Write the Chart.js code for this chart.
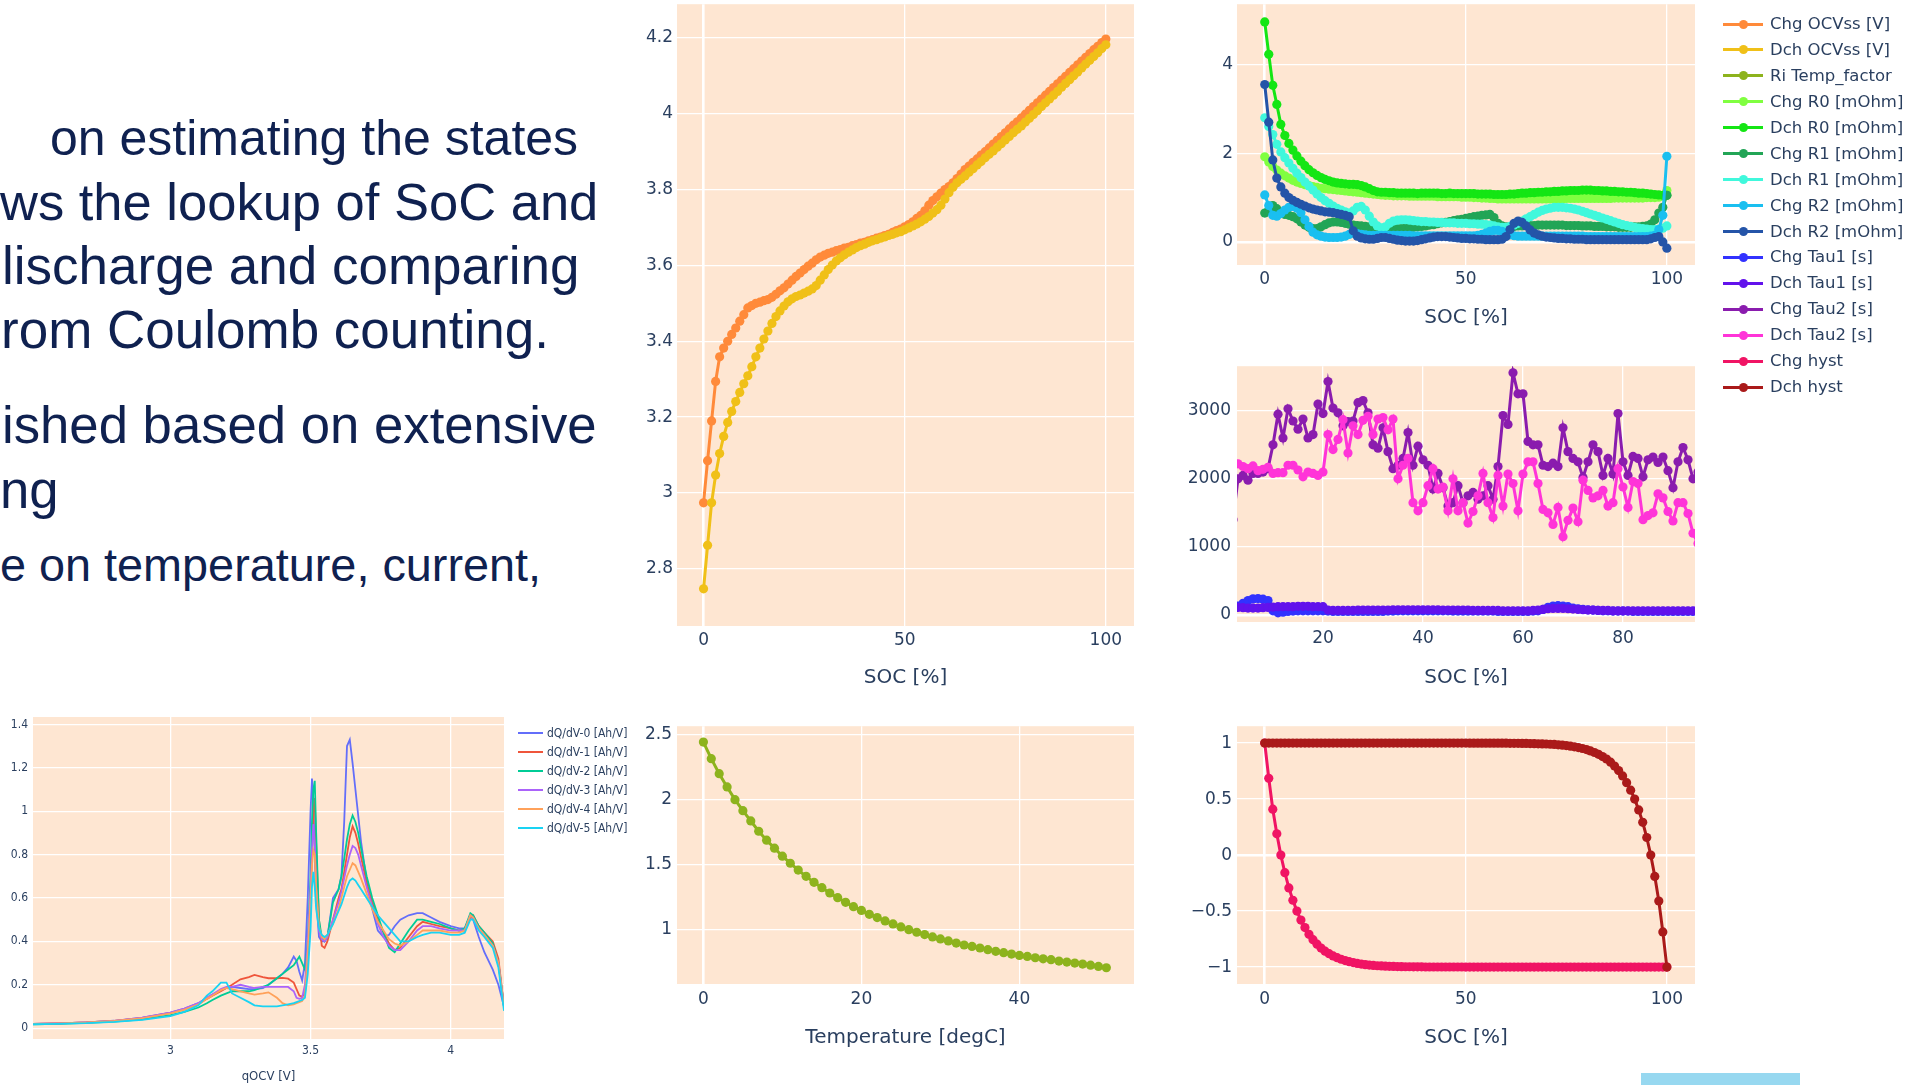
<!DOCTYPE html>
<html>
<head>
<meta charset="utf-8">
<title>Cell model lookup tables</title>
<script src="https://cdn.jsdelivr.net/npm/chart.js@4.4.1/dist/chart.umd.min.js"></script>
<style>
  html, body { margin: 0; padding: 0; }
  body { width: 1905px; height: 1085px; background: #fff; position: relative; overflow: hidden; }
  .line { position: absolute; white-space: nowrap; color: #0f2150; font-family: "Liberation Sans", Arial, sans-serif; line-height: 1; }
  canvas { position: absolute; }
  .leg { position: absolute; white-space: nowrap; color: #2a3f5f; line-height: 1.2; }
  .sw, .dot { position: absolute; }
  .dot { border-radius: 50%; }
  .bar { position: absolute; left: 1641px; top: 1073px; width: 159px; height: 12px; background: #97d8f0; }
</style>
</head>
<body>
<div id="slide"></div>
<canvas id="ocv"></canvas>
<canvas id="res"></canvas>
<canvas id="tau"></canvas>
<canvas id="temp"></canvas>
<canvas id="hyst"></canvas>
<canvas id="dqdv"></canvas>
<div class="bar"></div>
<script>
// slide text (cut off at the left edge in the original)
const SLIDE_LINES = [
  'on estimating the states',
  'ws the lookup of SoC and',
  'lischarge and comparing',
  'rom Coulomb counting.',
  'ished based on extensive',
  'ng',
  'e on temperature, current,'
];

// x values
const SOC = [0,1,2,3,4,5,6,7,8,9,10,11,12,13,14,15,16,17,18,19,20,21,22,23,24,25,26,27,28,29,30,31,32,33,34,35,36,37,38,39,40,41,42,43,44,45,46,47,48,49,50,51,52,53,54,55,56,57,58,59,60,61,62,63,64,65,66,67,68,69,70,71,72,73,74,75,76,77,78,79,80,81,82,83,84,85,86,87,88,89,90,91,92,93,94,95,96,97,98,99,100];
const SOC_TAU = [2,3,4,5,6,7,8,9,10,11,12,13,14,15,16,17,18,19,20,21,22,23,24,25,26,27,28,29,30,31,32,33,34,35,36,37,38,39,40,41,42,43,44,45,46,47,48,49,50,51,52,53,54,55,56,57,58,59,60,61,62,63,64,65,66,67,68,69,70,71,72,73,74,75,76,77,78,79,80,81,82,83,84,85,86,87,88,89,90,91,92,93,94,95,96];
const TEMP = [0,1,2,3,4,5,6,7,8,9,10,11,12,13,14,15,16,17,18,19,20,21,22,23,24,25,26,27,28,29,30,31,32,33,34,35,36,37,38,39,40,41,42,43,44,45,46,47,48,49,50,51];
const QOCV = [2.51,2.6,2.7,2.8,2.9,3.0,3.05,3.1,3.13,3.15,3.18,3.2,3.22,3.25,3.28,3.3,3.33,3.35,3.38,3.4,3.42,3.44,3.45,3.46,3.47,3.48,3.49,3.5,3.505,3.51,3.515,3.52,3.53,3.54,3.55,3.56,3.58,3.6,3.61,3.62,3.63,3.64,3.65,3.66,3.67,3.68,3.7,3.72,3.74,3.76,3.78,3.8,3.82,3.85,3.88,3.9,3.93,3.96,4.0,4.03,4.05,4.07,4.08,4.1,4.12,4.15,4.17,4.19];

// OCV [V]
const CHG_OCV = [2.974,3.085,3.19,3.294,3.359,3.382,3.4,3.418,3.435,3.453,
  3.47,3.488,3.494,3.5,3.503,3.507,3.51,3.516,3.524,3.533,
  3.541,3.551,3.561,3.571,3.58,3.589,3.598,3.606,3.615,3.622,
  3.627,3.632,3.635,3.639,3.642,3.646,3.648,3.652,3.655,3.659,
  3.661,3.665,3.668,3.672,3.675,3.679,3.682,3.687,3.692,3.696,
  3.702,3.708,3.715,3.724,3.732,3.744,3.759,3.771,3.781,3.791,
  3.8,3.808,3.818,3.829,3.841,3.853,3.862,3.872,3.881,3.891,
  3.9,3.91,3.92,3.93,3.94,3.95,3.96,3.97,3.979,3.989,
  3.999,4.009,4.019,4.029,4.039,4.049,4.059,4.069,4.079,4.089,
  4.099,4.109,4.119,4.129,4.139,4.149,4.159,4.169,4.178,4.188,4.197];
const DCH_OCV = [2.747,2.862,2.974,3.047,3.104,3.149,3.186,3.215,3.241,3.265,
  3.288,3.309,3.333,3.359,3.382,3.406,3.427,3.447,3.465,3.48,
  3.493,3.504,3.512,3.518,3.522,3.527,3.532,3.538,3.547,3.561,
  3.575,3.589,3.601,3.612,3.62,3.628,3.635,3.641,3.647,3.652,
  3.656,3.661,3.665,3.668,3.672,3.675,3.679,3.682,3.686,3.689,
  3.694,3.699,3.704,3.709,3.715,3.722,3.729,3.738,3.747,3.759,
  3.775,3.792,3.806,3.818,3.827,3.836,3.846,3.855,3.865,3.874,
  3.884,3.893,3.902,3.912,3.921,3.931,3.94,3.95,3.959,3.968,
  3.978,3.988,3.998,4.008,4.019,4.029,4.039,4.049,4.059,4.07,
  4.08,4.09,4.1,4.11,4.121,4.131,4.141,4.151,4.161,4.172,4.182];

// Ri temperature factor
const RI_TEMP = [2.443,2.315,2.2,2.098,2.0,1.915,1.836,1.757,1.688,1.627,
  1.565,1.511,1.458,1.41,1.364,1.323,1.282,1.246,1.21,1.177,
  1.148,1.118,1.093,1.067,1.044,1.021,1.0,0.98,0.962,0.944,
  0.929,0.913,0.897,0.882,0.871,0.859,0.846,0.833,0.823,0.812,
  0.802,0.794,0.784,0.776,0.769,0.758,0.751,0.743,0.735,0.727,0.717,0.707];

// resistances [mOhm]
const CHG_R0 = [1.92,1.8,1.7,1.62,1.55,1.49,1.44,1.39,1.35,1.32,
  1.29,1.27,1.25,1.23,1.21,1.2,1.19,1.18,1.17,1.16,
  1.15,1.14,1.13,1.12,1.11,1.1,1.09,1.08,1.07,1.06,
  1.05,1.05,1.04,1.04,1.04,1.04,1.03,1.03,1.03,1.03,
  1.03,1.03,1.03,1.02,1.02,1.02,1.02,1.02,1.02,1.01,
  1.01,1.01,1.0,1.0,0.99,0.99,0.98,0.98,0.97,0.97,
  0.97,0.97,0.97,0.97,0.97,0.97,0.97,0.97,0.97,0.97,
  0.97,0.97,0.97,0.97,0.97,0.98,0.98,0.98,0.98,0.98,
  0.98,0.98,0.98,0.98,0.98,0.98,0.98,0.99,0.99,0.99,
  0.99,0.99,0.99,0.99,0.99,1.0,1.0,1.0,1.01,1.03,1.16];
const DCH_R0 = [4.96,4.23,3.53,3.1,2.65,2.4,2.22,2.07,1.94,1.82,
  1.72,1.63,1.56,1.5,1.45,1.41,1.38,1.35,1.33,1.32,
  1.31,1.3,1.3,1.29,1.27,1.24,1.2,1.16,1.13,1.12,
  1.12,1.11,1.11,1.1,1.1,1.1,1.1,1.1,1.09,1.1,
  1.1,1.1,1.1,1.1,1.09,1.09,1.1,1.09,1.09,1.09,
  1.09,1.09,1.09,1.08,1.08,1.08,1.08,1.07,1.07,1.07,
  1.07,1.08,1.08,1.09,1.1,1.1,1.11,1.11,1.12,1.12,
  1.13,1.13,1.14,1.14,1.15,1.15,1.16,1.16,1.16,1.17,
  1.17,1.17,1.16,1.16,1.15,1.15,1.14,1.14,1.13,1.13,
  1.12,1.12,1.11,1.1,1.1,1.09,1.08,1.07,1.06,1.05,1.05];
const CHG_R1 = [0.65,0.72,0.82,0.75,0.66,0.62,0.6,0.57,0.52,0.45,
  0.38,0.33,0.3,0.3,0.34,0.39,0.43,0.45,0.45,0.44,
  0.42,0.4,0.38,0.37,0.36,0.35,0.34,0.32,0.3,0.29,
  0.28,0.28,0.29,0.3,0.3,0.31,0.32,0.33,0.34,0.35,
  0.36,0.38,0.39,0.41,0.43,0.44,0.46,0.48,0.5,0.51,
  0.53,0.55,0.57,0.58,0.6,0.61,0.62,0.55,0.42,0.36,
  0.34,0.34,0.35,0.36,0.36,0.37,0.37,0.37,0.38,0.38,
  0.38,0.38,0.38,0.38,0.38,0.37,0.37,0.37,0.37,0.36,
  0.36,0.36,0.35,0.35,0.35,0.34,0.34,0.34,0.33,0.33,
  0.33,0.33,0.34,0.34,0.35,0.36,0.4,0.5,0.65,0.78,1.05];
const DCH_R1 = [2.8,2.6,2.42,2.2,2.03,1.9,1.78,1.66,1.55,1.45,
  1.35,1.26,1.17,1.08,1.0,0.93,0.87,0.81,0.76,0.72,
  0.68,0.65,0.7,0.78,0.8,0.72,0.58,0.45,0.36,0.32,
  0.34,0.42,0.47,0.49,0.5,0.5,0.49,0.48,0.47,0.46,
  0.46,0.45,0.45,0.44,0.44,0.43,0.43,0.43,0.42,0.42,
  0.42,0.41,0.41,0.4,0.4,0.39,0.38,0.36,0.34,0.33,
  0.33,0.35,0.38,0.42,0.47,0.52,0.57,0.62,0.67,0.71,
  0.74,0.76,0.78,0.78,0.78,0.77,0.76,0.74,0.72,0.69,
  0.66,0.63,0.6,0.57,0.54,0.51,0.48,0.45,0.42,0.39,
  0.37,0.35,0.33,0.31,0.3,0.29,0.28,0.28,0.29,0.31,0.36];
const CHG_R2 = [1.06,0.82,0.6,0.58,0.64,0.72,0.78,0.8,0.76,0.66,
  0.5,0.35,0.22,0.16,0.13,0.11,0.1,0.1,0.1,0.11,
  0.13,0.17,0.2,0.19,0.17,0.16,0.15,0.15,0.15,0.15,
  0.15,0.15,0.15,0.15,0.15,0.15,0.15,0.14,0.14,0.14,
  0.14,0.14,0.14,0.14,0.14,0.14,0.14,0.14,0.14,0.14,
  0.14,0.14,0.14,0.15,0.17,0.2,0.24,0.26,0.26,0.24,
  0.2,0.16,0.14,0.13,0.13,0.13,0.13,0.13,0.13,0.13,
  0.13,0.13,0.13,0.13,0.13,0.13,0.13,0.13,0.13,0.13,
  0.12,0.12,0.12,0.12,0.12,0.12,0.12,0.12,0.12,0.12,
  0.12,0.12,0.12,0.12,0.12,0.12,0.13,0.15,0.28,0.6,1.93];
const DCH_R2 = [3.55,2.7,1.85,1.44,1.24,1.1,1.0,0.94,0.89,0.85,
  0.81,0.77,0.74,0.72,0.7,0.68,0.67,0.66,0.64,0.62,
  0.6,0.57,0.25,0.13,0.09,0.07,0.06,0.06,0.08,0.1,
  0.1,0.08,0.06,0.04,0.03,0.02,0.02,0.02,0.03,0.05,
  0.07,0.09,0.11,0.12,0.12,0.12,0.11,0.1,0.09,0.08,
  0.08,0.07,0.07,0.06,0.06,0.05,0.05,0.05,0.05,0.06,
  0.12,0.28,0.42,0.47,0.44,0.36,0.27,0.2,0.16,0.13,
  0.11,0.1,0.09,0.08,0.08,0.07,0.07,0.06,0.06,0.06,
  0.05,0.05,0.05,0.05,0.05,0.05,0.05,0.05,0.05,0.05,
  0.05,0.05,0.05,0.05,0.05,0.05,0.07,0.1,0.12,0.0,-0.14];

// time constants [s], SOC 2..96
const CHG_TAU1 = [110,130,170,210,235,240,230,210,60,30,
  40,50,55,60,60,60,60,60,60,55,
  50,50,50,50,50,50,50,50,50,50,
  50,55,55,60,60,60,60,60,60,60,
  60,60,60,60,55,55,55,55,55,55,
  55,55,55,50,50,50,50,50,50,50,
  55,60,80,110,130,135,130,120,100,90,
  80,75,70,65,60,60,55,55,55,55,
  50,50,50,50,50,50,50,50,50,50,
  50,50,50,50,50];
const DCH_TAU1 = [110,110,105,100,100,100,105,110,115,120,
  120,120,120,125,125,125,120,120,120,70,
  65,65,65,65,65,70,70,70,70,70,
  70,70,75,75,75,75,75,75,75,75,
  75,75,70,70,70,70,70,70,65,65,
  65,65,65,65,60,60,60,60,60,60,
  65,70,80,90,95,95,95,90,85,80,
  75,70,70,65,65,65,60,60,60,60,
  60,60,60,60,60,60,60,60,60,60,
  60,60,60,60,60];
const CHG_TAU2 = [1400,2000,2050,1980,2080,2080,2100,2150,2500,2950,
  2600,3030,2850,2730,2880,2600,2650,3100,2960,3430,
  3040,2970,2780,2840,2850,3120,3150,2970,2500,2450,
  2750,2400,2150,2200,2300,2680,2200,2480,2280,2200,
  1850,2080,1870,1600,1650,1900,1650,1750,1800,1700,
  1750,1900,1700,2180,2930,2800,3560,3250,3250,2550,
  2500,2500,2200,2180,2230,2180,2750,2400,2300,2250,
  2020,2250,2500,2400,2050,2300,2070,2960,2250,2050,
  2330,2300,2030,2280,2320,2240,2320,2120,1870,2250,
  2460,2280,2000,2100,2050];
const DCH_TAU2 = [2240,2220,2180,2150,2190,2120,2140,2170,2080,2090,
  2090,2200,2200,2130,2030,2100,2080,2050,2100,2650,
  2430,2580,2870,2380,2780,2650,2860,2920,2650,2880,
  2900,2720,2880,2000,2200,2300,1650,1530,1650,1900,
  2150,1850,1880,1530,2000,1530,1650,1350,1520,1750,
  2080,1650,1430,2050,1600,2070,1930,1530,2070,2250,
  2250,1930,1550,1500,1330,1580,1150,1390,1570,1370,
  1980,1830,1720,1750,1830,1600,1650,2150,1880,1580,
  1960,1930,1400,1460,1500,1780,1720,1520,1380,1650,
  1650,1490,1200,1050,1000];

// hysteresis
const CHG_HYST = [1,0.686,0.41,0.19,0.0,-0.157,-0.293,-0.403,-0.5,-0.58,
  -0.647,-0.707,-0.755,-0.795,-0.83,-0.858,-0.88,-0.9,-0.916,-0.93,
  -0.942,-0.952,-0.96,-0.967,-0.973,-0.978,-0.982,-0.985,-0.988,-0.99,
  -0.992,-0.993,-0.994,-0.995,-0.996,-0.997,-0.997,-0.998,-0.998,-0.998,
  -0.999,-0.999,-0.999,-0.999,-0.999,-0.999,-0.999,-0.999,-0.999,-0.999,
  -1,-1,-1,-1,-1,-1,-1,-1,-1,-1,
  -1,-1,-1,-1,-1,-1,-1,-1,-1,-1,
  -1,-1,-1,-1,-1,-1,-1,-1,-1,-1,
  -1,-1,-1,-1,-1,-1,-1,-1,-1,-1,
  -1,-1,-1,-1,-1,-1,-1,-1,-1,-1,-1];
const DCH_HYST = [1,1,1,1,1,1,1,1,1,1,
  1,1,1,1,1,1,1,1,1,1,
  1,1,1,1,1,1,1,1,1,1,
  1,1,1,1,1,1,1,1,1,1,
  1,1,1,1,1,1,1,1,1,1,
  1,0.999,0.999,0.999,0.999,0.999,0.999,0.999,0.999,0.999,
  0.999,0.998,0.998,0.998,0.997,0.997,0.996,0.995,0.994,0.993,
  0.992,0.99,0.988,0.985,0.982,0.978,0.973,0.967,0.96,0.952,
  0.942,0.93,0.916,0.9,0.88,0.858,0.83,0.795,0.755,0.707,
  0.647,0.58,0.5,0.403,0.293,0.157,0.0,-0.19,-0.41,-0.686,-1];

// dQ/dV [Ah/V] vs qOCV
const DQDV_0 = [0.02,0.022,0.027,0.034,0.048,0.072,0.09,0.115,0.14,0.155,0.175,0.185,0.19,0.185,0.18,0.18,0.185,0.2,0.23,0.25,0.28,0.33,0.31,0.26,0.22,0.3,0.6,1.0,1.15,1.05,0.8,0.6,0.42,0.4,0.4,0.42,0.6,0.64,0.7,0.95,1.3,1.33,1.22,1.1,0.98,0.86,0.68,0.55,0.45,0.42,0.43,0.47,0.5,0.52,0.53,0.53,0.51,0.49,0.47,0.46,0.46,0.52,0.5,0.42,0.35,0.27,0.2,0.1];
const DQDV_1 = [0.02,0.022,0.026,0.033,0.046,0.07,0.087,0.11,0.135,0.15,0.17,0.185,0.2,0.225,0.235,0.245,0.235,0.23,0.23,0.232,0.228,0.21,0.18,0.15,0.145,0.16,0.3,0.55,0.8,1.0,1.06,0.85,0.5,0.38,0.37,0.4,0.5,0.6,0.64,0.72,0.8,0.88,0.93,0.9,0.85,0.79,0.67,0.58,0.5,0.44,0.39,0.36,0.37,0.42,0.47,0.49,0.48,0.47,0.46,0.45,0.45,0.51,0.52,0.47,0.44,0.4,0.32,0.1];
const DQDV_2 = [0.018,0.02,0.024,0.03,0.04,0.06,0.075,0.095,0.115,0.13,0.15,0.16,0.17,0.17,0.17,0.175,0.19,0.2,0.23,0.25,0.27,0.29,0.31,0.33,0.3,0.27,0.4,0.7,0.95,1.1,1.14,0.9,0.5,0.42,0.4,0.42,0.58,0.64,0.7,0.78,0.87,0.94,0.98,0.95,0.9,0.83,0.7,0.6,0.52,0.44,0.37,0.35,0.39,0.45,0.5,0.5,0.49,0.48,0.46,0.45,0.46,0.53,0.52,0.47,0.44,0.39,0.3,0.1];
const DQDV_3 = [0.02,0.022,0.026,0.034,0.048,0.072,0.09,0.115,0.14,0.155,0.18,0.19,0.19,0.2,0.19,0.185,0.19,0.19,0.19,0.19,0.19,0.17,0.14,0.135,0.14,0.2,0.4,0.65,0.82,0.94,0.85,0.65,0.45,0.41,0.4,0.42,0.5,0.58,0.63,0.69,0.75,0.8,0.84,0.83,0.8,0.75,0.65,0.56,0.48,0.42,0.38,0.36,0.36,0.4,0.45,0.47,0.47,0.46,0.45,0.45,0.45,0.52,0.51,0.46,0.43,0.38,0.3,0.1];
const DQDV_4 = [0.02,0.022,0.026,0.033,0.046,0.068,0.085,0.11,0.135,0.15,0.175,0.185,0.18,0.17,0.16,0.155,0.16,0.165,0.14,0.115,0.105,0.11,0.115,0.12,0.125,0.15,0.35,0.6,0.75,0.82,0.8,0.65,0.47,0.42,0.41,0.43,0.48,0.55,0.6,0.65,0.7,0.73,0.76,0.75,0.72,0.69,0.62,0.55,0.49,0.45,0.41,0.39,0.38,0.4,0.43,0.45,0.45,0.45,0.44,0.44,0.45,0.52,0.51,0.46,0.43,0.38,0.3,0.1];
const DQDV_5 = [0.018,0.02,0.023,0.029,0.038,0.055,0.075,0.105,0.15,0.17,0.21,0.21,0.16,0.14,0.12,0.105,0.1,0.1,0.1,0.105,0.11,0.115,0.12,0.125,0.13,0.14,0.25,0.45,0.65,0.72,0.65,0.55,0.46,0.43,0.42,0.43,0.48,0.54,0.57,0.61,0.65,0.68,0.69,0.68,0.66,0.64,0.6,0.56,0.52,0.49,0.46,0.43,0.4,0.4,0.42,0.43,0.44,0.44,0.43,0.43,0.44,0.5,0.5,0.45,0.42,0.37,0.28,0.08];

const SERIES_NAMES = ['Chg OCVss [V]','Dch OCVss [V]','Ri Temp_factor','Chg R0 [mOhm]','Dch R0 [mOhm]','Chg R1 [mOhm]','Dch R1 [mOhm]','Chg R2 [mOhm]','Dch R2 [mOhm]','Chg Tau1 [s]','Dch Tau1 [s]','Chg Tau2 [s]','Dch Tau2 [s]','Chg hyst','Dch hyst'];
const SERIES_COLORS = ['#ff8a3a','#f0c018','#8db31d','#80ff40','#14e614','#22a556','#40f8dc','#1abff0','#2454a8','#3232ff','#6212ec','#8a1cae','#ff34d8','#f01464','#aa1a1a'];
const DQDV_NAMES = ['dQ/dV-0 [Ah/V]','dQ/dV-1 [Ah/V]','dQ/dV-2 [Ah/V]','dQ/dV-3 [Ah/V]','dQ/dV-4 [Ah/V]','dQ/dV-5 [Ah/V]'];
const DQDV_COLORS = ['#636efa','#ef553b','#00cc96','#ab63fa','#ffa15a','#19d3f3'];

// tick values
const OCV_Y_TICKS = [2.8,3,3.2,3.4,3.6,3.8,4,4.2];
const SOC_TICKS = [0,50,100];
const R_Y_TICKS = [0,2,4];
const TAU_X_TICKS = [20,40,60,80];
const TAU_Y_TICKS = [0,1000,2000,3000];
const TEMP_X_TICKS = [0,20,40];
const TEMP_Y_TICKS = [1,1.5,2,2.5];
const HYST_Y_TICKS = [-1,-0.5,0,0.5,1];
const QOCV_TICKS = [3,3.5,4];
const DQDV_Y_TICKS = [0,0.2,0.4,0.6,0.8,1,1.2,1.4];

const TICK_COLOR = '#2a3f5f';
const PLOT_BG = '#fee6d2';

// ---- slide text ----
const slide = document.getElementById('slide');
// [left, visual centre y, font size]
const textPos = [[50,140,50],[0,205,52.5],[2,268,53],[1,332,53],[2,428,52.7],[0,493,52.7],[0,568,46.8]];
SLIDE_LINES.forEach(function(t, i) {
  const d = document.createElement('div');
  d.className = 'line';
  d.textContent = t;
  d.style.left = textPos[i][0] + 'px';
  d.style.top = (textPos[i][1] - 0.5465 * textPos[i][2]) + 'px';
  d.style.fontSize = textPos[i][2] + 'px';
  slide.appendChild(d);
});

// ---- legends ----
function legend(names, colors, o) {
  names.forEach(function(n, i) {
    const y = o.y0 + i * o.dy;
    const sw = document.createElement('div');
    sw.className = 'sw';
    sw.style.cssText = 'left:' + o.x + 'px;top:' + (y - o.lw / 2) + 'px;width:' + o.len + 'px;height:' + o.lw + 'px;background:' + colors[i];
    document.body.appendChild(sw);
    if (o.dot) {
      const d = document.createElement('div');
      d.className = 'dot';
      d.style.cssText = 'left:' + (o.x + o.len / 2 - o.dot / 2) + 'px;top:' + (y - o.dot / 2) + 'px;width:' + o.dot + 'px;height:' + o.dot + 'px;background:' + colors[i];
      document.body.appendChild(d);
    }
    const t = document.createElement('div');
    t.className = 'leg';
    t.textContent = n;
    t.style.cssText = 'left:' + o.text + 'px;top:' + (y - o.size * 0.6) + 'px;font-size:' + o.size + 'px;font-family:' + o.family;
    document.body.appendChild(t);
  });
}
legend(SERIES_NAMES, SERIES_COLORS, {x: 1723, y0: 24, dy: 25.93, len: 40, lw: 3, dot: 9, text: 1770, size: 16.5, family: '"DejaVu Sans", Verdana, sans-serif'});
legend(DQDV_NAMES, DQDV_COLORS, {x: 518, y0: 733, dy: 19, len: 25, lw: 2, dot: 0, text: 547, size: 12, family: '"Liberation Sans Narrow", "DejaVu Sans Condensed", "Liberation Sans", sans-serif'});

// ---- charts ----
const plotBg = {
  id: 'plotBg',
  beforeDraw(chart) {
    const a = chart.chartArea, c = chart.ctx;
    c.save();
    c.fillStyle = PLOT_BG;
    c.fillRect(a.left, a.top, a.right - a.left, a.bottom - a.top);
    c.restore();
  }
};

function pts(xs, ys) {
  return ys.map(function(y, i) { return {x: xs[i], y: y}; });
}

function fmt(v) {
  return String(v).replace('-', '\u2212');
}

function series(xs, ys, color, i, extra) {
  return Object.assign({
    data: pts(xs, ys), showLine: true,
    borderColor: color, backgroundColor: color, pointBackgroundColor: color,
    pointBorderWidth: 0, pointRadius: 4.6, pointHoverRadius: 4.6,
    borderWidth: 3, tension: 0, order: -i
  }, extra || {});
}

function plotlyChart(id, box, cfg) {
  const pt = 14, pr = 40;
  const cv = document.getElementById(id);
  cv.width = box.r - box.l + box.yw + pr;
  cv.height = box.b - box.t + pt + box.xh;
  cv.style.left = (box.l - box.yw) + 'px';
  cv.style.top = (box.t - pt) + 'px';
  const f = cfg.font || {family: 'DejaVu Sans', size: 17};
  const tf = cfg.titleFont || {family: 'DejaVu Sans', size: 20};
  const zw = cfg.zeroWidth || 2.6;
  function axis(range, ticks, extra) {
    return Object.assign({
      type: 'linear', min: range[0], max: range[1],
      afterBuildTicks: function(s) { s.ticks = ticks.map(function(v) { return {value: v}; }); },
      grid: {color: '#ffffff', drawTicks: false,
        lineWidth: function(c) { return (c.tick && c.tick.value === 0) ? zw : 1.3; }},
      border: {display: false},
      ticks: {color: TICK_COLOR, font: f, padding: cfg.tickPad || 4, autoSkip: false, maxRotation: 0,
        callback: function(v) { return fmt(v); }}
    }, extra);
  }
  return new Chart(cv, {
    type: 'scatter',
    data: {datasets: cfg.datasets},
    options: {
      responsive: false, animation: false,
      layout: {padding: {top: pt, right: pr, left: 0, bottom: 0}},
      plugins: {legend: {display: false}, tooltip: {enabled: false}},
      scales: {
        x: axis(cfg.xRange, cfg.xTicks, {
          afterFit: function(s) { s.height = box.xh; },
          title: {display: true, text: cfg.xTitle, color: TICK_COLOR, font: tf, padding: 0}
        }),
        y: axis(cfg.yRange, cfg.yTicks, {
          afterFit: function(s) { s.width = box.yw; }
        })
      }
    },
    plugins: [plotBg]
  });
}

const C = SERIES_COLORS;

plotlyChart('ocv', {l: 677, r: 1134, t: 4, b: 626, yw: 60, xh: 64}, {
  xRange: [-6.6, 107], yRange: [2.649, 4.289], xTicks: SOC_TICKS, yTicks: OCV_Y_TICKS, xTitle: 'SOC [%]',
  datasets: [series(SOC, CHG_OCV, C[0], 0), series(SOC, DCH_OCV, C[1], 1)]
});

plotlyChart('res', {l: 1237, r: 1695, t: 4, b: 265, yw: 70, xh: 65}, {
  xRange: [-6.9, 107], yRange: [-0.52, 5.36], xTicks: SOC_TICKS, yTicks: R_Y_TICKS, xTitle: 'SOC [%]',
  datasets: [
    series(SOC, CHG_R0, C[3], 3), series(SOC, DCH_R0, C[4], 4),
    series(SOC, CHG_R1, C[5], 5), series(SOC, DCH_R1, C[6], 6),
    series(SOC, CHG_R2, C[7], 7), series(SOC, DCH_R2, C[8], 8)
  ]
});

plotlyChart('tau', {l: 1237, r: 1695, t: 364, b: 622, yw: 70, xh: 68}, {
  xRange: [2.8, 94.4], yRange: [-105, 3656], xTicks: TAU_X_TICKS, yTicks: TAU_Y_TICKS, xTitle: 'SOC [%]', tickPad: 6,
  datasets: [
    series(SOC_TAU, CHG_TAU1, C[9], 9, {clip: 0}), series(SOC_TAU, DCH_TAU1, C[10], 10, {clip: 0}),
    series(SOC_TAU, CHG_TAU2, C[11], 11, {clip: 0}), series(SOC_TAU, DCH_TAU2, C[12], 12, {clip: 0})
  ]
});

plotlyChart('temp', {l: 677, r: 1134, t: 725, b: 984, yw: 60, xh: 66}, {
  xRange: [-3.34, 54.5], yRange: [0.582, 2.565], xTicks: TEMP_X_TICKS, yTicks: TEMP_Y_TICKS, xTitle: 'Temperature [degC]', tickPad: 5,
  datasets: [series(TEMP, RI_TEMP, C[2], 2)]
});

plotlyChart('hyst', {l: 1237, r: 1695, t: 725, b: 984, yw: 70, xh: 66}, {
  xRange: [-6.9, 107], yRange: [-1.151, 1.151], xTicks: SOC_TICKS, yTicks: HYST_Y_TICKS, xTitle: 'SOC [%]', tickPad: 5,
  datasets: [series(SOC, CHG_HYST, C[13], 13), series(SOC, DCH_HYST, C[14], 14)]
});

const narrow = '"Liberation Sans Narrow", "DejaVu Sans Condensed", "Liberation Sans", sans-serif';
plotlyChart('dqdv', {l: 33, r: 504, t: 717, b: 1039, yw: 33, xh: 45}, {
  xRange: [2.51, 4.19], yRange: [-0.05, 1.434], xTicks: QOCV_TICKS, yTicks: DQDV_Y_TICKS, xTitle: 'qOCV [V]',
  font: {family: narrow, size: 12}, titleFont: {family: narrow, size: 13}, zeroWidth: 1.3, tickPad: 5,
  datasets: [DQDV_0, DQDV_1, DQDV_2, DQDV_3, DQDV_4, DQDV_5].map(function(ys, i) {
    return series(QOCV, ys, DQDV_COLORS[i], i, {pointRadius: 0, borderWidth: 1.8});
  })
});
</script>
</body>
</html>
